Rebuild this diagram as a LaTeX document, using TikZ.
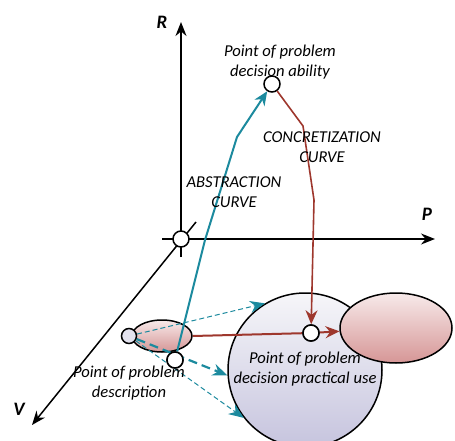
\documentclass[tikz,border=0pt]{standalone}
\usepackage{fontspec}
\setmainfont{Carlito}
\usetikzlibrary{positioning,arrows.meta,calc,shapes.geometric}
\definecolor{tyrkys}{RGB}{28,138,158}
\definecolor{hneda}{RGB}{158,55,45}
\definecolor{ruzovaH}{RGB}{247,234,234}
\definecolor{ruzovaD}{RGB}{214,150,150}
\definecolor{fialH}{RGB}{246,246,249}
\definecolor{fialD}{RGB}{198,196,222}
\tikzset{
  bod/.style={circle,draw=black,line width=1.5pt,fill=white,minimum size=16pt,inner sep=0pt},
  osa/.style={line width=1.5pt,-{Stealth[length=14pt,width=11pt]}},
  kapka/.style={ellipse,draw=black,line width=1.5pt,top color=ruzovaH,bottom color=ruzovaD},
  kruh/.style={circle,draw=black,line width=1.5pt,top color=fialH,bottom color=fialD},
  popis/.style={align=center,font=\fontsize{16.6}{20}\selectfont\itshape,text=black},
  osapopis/.style={font=\fontsize{19}{20}\selectfont\bfseries\itshape},
  abstr/.style={draw=tyrkys,line width=2pt,-{Stealth[length=14pt,width=12pt]}},
  konkr/.style={draw=hneda,line width=1.6pt,-{Stealth[length=14pt,width=12pt]}},
  carka/.style={draw=tyrkys,line width=1pt,dash pattern=on 5pt off 3pt,-{Stealth[length=15pt,width=12pt]}},
}
\begin{document}
\begin{tikzpicture}[x=1pt,y=-1pt]
  \useasboundingbox (0,0) rectangle (455,441);
  % axes
  \draw[osa] (181,257) -- (181,22);
  \draw[osa] (162,239) -- (435,239);
  \draw[osa] (196,222) -- (32,425);
  \node[bod] (o) at (181,239) {};
  \node[osapopis] (lR) at (162,22) {R};
  \node[osapopis] (lP) at (427,214) {P};
  \node[osapopis] (lV) at (19,409) {V};
  % areas
  \node[kruh,minimum size=154pt] (uzitie) at (305,370) {};
  \node[kapka,minimum width=112pt,minimum height=70pt] (pravy) at (396,328) {};
  \node[kapka,minimum width=60pt,minimum height=32pt] (lavy) at (162,336) {};
  % points
  \node[bod] (top) at (272,84) {};
  \node[bod] (use) at (311,333) {};
  \node[bod] (desc) at (175,360) {};
  \node[circle,draw=black,line width=1.5pt,fill=fialH!60!fialD,minimum size=15pt,inner sep=0pt] (zac) at (129,336) {};
  % projections
  \draw[carka] (zac) -- (uzitie.121);
  \draw[carka] (zac) -- (uzitie.218);
  \draw[carka,line width=2.2pt,dash pattern=on 9pt off 5pt] (zac) -- (uzitie.184);
  % curves
  \coordinate (a1) at (205,240);
  \coordinate (a2) at (237,137);
  \draw[abstr] (desc) -- (a1) -- (a2) -- (top);
  \coordinate (k1) at (303,126);
  \coordinate (k2) at (314,200);
  \draw[konkr] (top) -- (k1) -- (k2) -- (use);
  \draw[konkr,line width=2pt,-] (lavy.east) -- (use);
  \draw[konkr,line width=2pt] (use) -- (pravy);
  \node[bod] at (desc) {};
  \node[bod] at (use) {};
  % labels
  \node[popis] (lab) at (280,62) {Point of problem\\decision ability};
  \node[popis] (lkon) at (322,147) {CONCRETIZATION\\CURVE};
  \node[popis] (labs) at (234,192) {ABSTRACTION\\CURVE};
  \node[popis] (ldes) at (129,383) {Point of problem\\description};
  \node[popis] (luse) at (305,369) {Point of problem\\decision practical use};
\end{tikzpicture}
\end{document}
